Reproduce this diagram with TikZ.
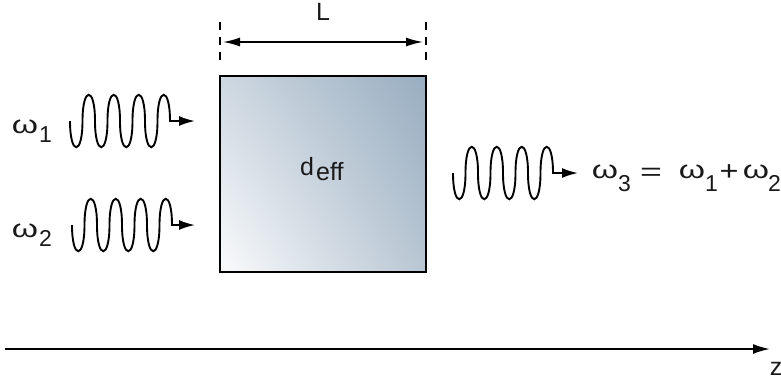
\documentclass[tikz,border=0pt]{standalone}
\usepackage{fontspec}
\setmainfont{Liberation Sans}
\usepackage{graphicx}
\usetikzlibrary{arrows.meta,shadings}
\newcommand\om{\scalebox{1.4}[1.05]{ω}}
\newcommand\wavepath[2]{(#1,#2) \foreach \i in {0,...,3}{ .. controls ({#1+25*\i},{#2+35}) and ({#1+25*\i+12.5},{#2+35}) .. ({#1+25*\i+12.5},#2) .. controls ({#1+25*\i+12.5},{#2-35}) and ({#1+25*\i+25},{#2-35}) .. ({#1+25*\i+25},#2)}}
\definecolor{boxTL}{RGB}{206,216,225}
\definecolor{boxTR}{RGB}{152,173,192}
\definecolor{boxBL}{RGB}{250,251,252}
\definecolor{boxBR}{RGB}{184,198,211}
\tikzset{
  wave/.style={line width=1.9bp, -{Latex[length=16bp,width=10bp]}},
  dimline/.style={line width=1.6bp, {Latex[length=17bp,width=9bp]}-{Latex[length=17bp,width=9bp]}},
  guide/.style={line width=1.6bp, dash pattern=on 8bp off 7bp},
  axis/.style={line width=2bp, -{Latex[length=17bp,width=10bp]}},
  lbl/.style={inner sep=0pt, text=black!90, font=\fontsize{25bp}{29bp}\selectfont},
  omg/.style={inner sep=0pt, text=black!90, anchor=base, font=\fontsize{24bp}{28bp}\selectfont},
  sub/.style={inner sep=0pt, text=black!90, anchor=base west, font=\fontsize{23bp}{27bp}\selectfont}
}
\begin{document}
\begin{tikzpicture}[x={(1bp,0)}, y={(0,-1bp)}]
\useasboundingbox (0,0) rectangle (781,379);
% crystal
\shade[upper left=boxTL, upper right=boxTR, lower left=boxBL, lower right=boxBR] (220,76) rectangle (426,272);
\draw[line width=2.2bp] (220,76) rectangle (426,272);
\node[lbl, anchor=base west] (d) at (300,175) {d};
\node[lbl, anchor=base west] (eff) at (316,180) {eff};
% length
\coordinate (gl1) at (220,22);
\coordinate (gl2) at (220,66);
\coordinate (gr1) at (426,22);
\coordinate (gr2) at (426,66);
\draw[guide] (gl1) -- (gl2);
\draw[guide] (gr1) -- (gr2);
\coordinate (da) at (223,42);
\coordinate (db) at (423,42);
\draw[dimline] (da) -- (db);
\node[lbl, anchor=base] (L) at (323,20) {L};
% waves
\coordinate (w1end) at (195,121);
\draw[wave] \wavepath{70}{121} -- (w1end);
\coordinate (w2end) at (195,225);
\draw[wave] \wavepath{72}{225} -- (w2end);
\coordinate (w3end) at (578,173);
\draw[wave] \wavepath{453}{173} -- (w3end);
% labels
\node[omg] (om1) at (25,133) {\om};
\node[sub] (s1) at (39,142) {1};
\node[omg] (om2) at (25,237) {\om};
\node[sub] (s2) at (39,246) {2};
\node[omg] (om3) at (605,178) {\om};
\node[sub] (s3) at (618,191) {3};
\node[lbl, anchor=base] (eq) at (651,180) {\scalebox{1.5}[1]{=}};
\node[omg] (om4) at (692,178) {\om};
\node[sub] (s4) at (705,191) {1};
\node[lbl, anchor=base] (plus) at (729,180) {\scalebox{1.3}[1.1]{+}};
\node[omg] (om5) at (756,178) {\om};
\node[sub] (s5) at (768,191) {2};
% z axis
\coordinate (za) at (5,349);
\coordinate (zb) at (770,349);
\draw[axis] (za) -- (zb);
\node[lbl, anchor=base] (z) at (776,375) {z};
\end{tikzpicture}
\end{document}
